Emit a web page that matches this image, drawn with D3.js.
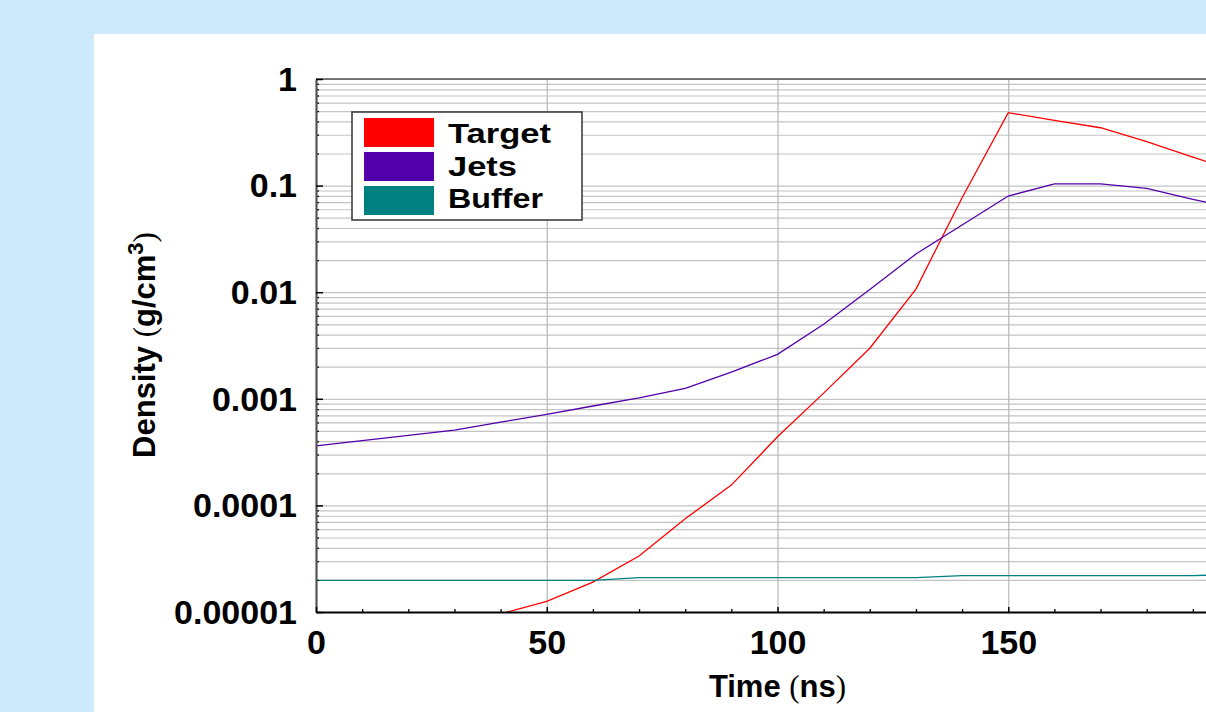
<!DOCTYPE html>
<html>
<head>
<meta charset="utf-8">
<script src="https://cdn.jsdelivr.net/npm/d3@7"></script>
<style>
  body { margin: 0; background: #cdeafd; }
  svg { display: block; }
  .lbl { font-family: "Liberation Sans", Arial, Helvetica, sans-serif; font-weight: bold; fill: #000; }
</style>
</head>
<body>
<svg id="chart"></svg>
<script>
// data
const targetTime = [40, 50, 60, 70, 80, 90, 100, 110, 120, 130, 140, 150, 160, 170, 180, 190, 200];
const targetDensity = [9.6e-6, 1.26e-5, 1.91e-5, 3.35e-5, 7.5e-5, 1.55e-4, 4.4e-4, 1.13e-3, 2.98e-3, 1.07e-2, 7.7e-2, 0.483, 0.41, 0.349, 0.258, 0.185, 0.134];

const jetsTime = [0, 10, 20, 30, 40, 50, 60, 70, 80, 90, 100, 110, 120, 130, 140, 150, 160, 170, 180, 190, 200];
const jetsDensity = [3.61e-4, 4.05e-4, 4.54e-4, 5.09e-4, 6.04e-4, 7.16e-4, 8.56e-4, 1.02e-3, 1.25e-3, 1.78e-3, 2.61e-3, 5.0e-3, 1.06e-2, 2.28e-2, 4.27e-2, 0.0798, 0.104, 0.104, 0.0944, 0.0743, 0.06];

const bufferTime = [0, 10, 20, 30, 40, 50, 60, 70, 80, 90, 100, 110, 120, 130, 140, 150, 160, 170, 180, 190, 200];
const bufferDensity = [1.98e-5, 1.98e-5, 1.98e-5, 1.98e-5, 1.98e-5, 1.98e-5, 1.98e-5, 2.10e-5, 2.10e-5, 2.10e-5, 2.10e-5, 2.10e-5, 2.10e-5, 2.10e-5, 2.19e-5, 2.19e-5, 2.19e-5, 2.19e-5, 2.19e-5, 2.19e-5, 2.27e-5];

const seriesNames = ['Target', 'Jets', 'Buffer'];
const seriesColors = ['#ff0000', '#5200aa', '#008080'];

const yTickValues = [1, 0.1, 0.01, 0.001, 0.0001, 0.00001];
const yTickLabels = ['1', '0.1', '0.01', '0.001', '0.0001', '0.00001'];
// the 200 tick sits past the window edge, so only the visible labels are listed
const xTickValues = [0, 50, 100, 150];
const xTickLabels = ['0', '50', '100', '150'];

const config = {
    width: 1206,
    height: 712,
    panel: {x: 94, y: 34},
    plot: {left: 316, top: 79, bottom: 612, right: 1239},
    legendTextWidth: [103, 69, 95]
};

const svg = d3.select('#chart')
    .attr('width', config.width)
    .attr('height', config.height);

// white panel
svg.append('rect')
    .attr('x', config.panel.x)
    .attr('y', config.panel.y)
    .attr('width', config.width - config.panel.x + 20)
    .attr('height', config.height)
    .attr('fill', '#fff');

const xScale = d3.scaleLinear()
    .domain([0, 200])
    .range([config.plot.left, config.plot.right]);

const yScale = d3.scaleLog()
    .domain([1e-5, 1])
    .range([config.plot.bottom, config.plot.top]);

const plotW = config.plot.right - config.plot.left;
const plotH = config.plot.bottom - config.plot.top;

// minor log values 2..9 x 10^k
const minorY = [];
for (let k = -5; k < 0; k++) {
    for (let m = 2; m <= 9; m++) minorY.push(m * Math.pow(10, k));
}
const minorX = d3.range(0, 201, 10).filter(v => v % 50 !== 0);

// horizontal grid
svg.append('g')
    .attr('class', 'grid')
    .attr('transform', `translate(${config.plot.left},0)`)
    .call(d3.axisLeft(yScale).tickValues(minorY.concat(yTickValues)).tickSize(-plotW).tickFormat(''))
    .call(g => g.select('.domain').remove())
    .call(g => g.selectAll('line').attr('stroke', '#c4c4c4').attr('stroke-width', 1.2));

// vertical grid
svg.append('g')
    .attr('class', 'grid')
    .attr('transform', `translate(0,${config.plot.bottom})`)
    .call(d3.axisBottom(xScale).tickValues([50, 100, 150]).tickSize(-plotH).tickFormat(''))
    .call(g => g.select('.domain').remove())
    .call(g => g.selectAll('line').attr('stroke', '#b8b8b8').attr('stroke-width', 1.2));

// lines
svg.append('clipPath').attr('id', 'plot-clip')
    .append('rect')
    .attr('x', config.plot.left)
    .attr('y', config.plot.top)
    .attr('width', plotW)
    .attr('height', plotH);

const lineGen = d3.line()
    .x(d => xScale(d[0]))
    .y(d => yScale(d[1]));

const seriesData = [
    d3.zip(targetTime, targetDensity),
    d3.zip(jetsTime, jetsDensity),
    d3.zip(bufferTime, bufferDensity)
];

svg.append('g')
    .attr('clip-path', 'url(#plot-clip)')
    .selectAll('path')
    .data(seriesData)
    .join('path')
    .attr('d', lineGen)
    .attr('fill', 'none')
    .attr('stroke', (d, i) => seriesColors[i])
    .attr('stroke-width', 1.3);

// frame top
svg.append('line')
    .attr('x1', config.plot.left).attr('x2', config.plot.right)
    .attr('y1', config.plot.top).attr('y2', config.plot.top)
    .attr('stroke', '#555').attr('stroke-width', 1.5);

// y axis: minor ticks, then major with labels
svg.append('g')
    .attr('transform', `translate(${config.plot.left},0)`)
    .call(d3.axisLeft(yScale).tickValues(minorY).tickSize(-3).tickFormat(''))
    .call(g => g.select('.domain').remove())
    .call(g => g.selectAll('line').attr('stroke', '#000').attr('stroke-width', 1.3));

const yAxisG = svg.append('g')
    .attr('transform', `translate(${config.plot.left},0)`)
    .call(d3.axisLeft(yScale)
        .tickValues(yTickValues)
        .tickSizeInner(-7)
        .tickSizeOuter(0)
        .tickPadding(19)
        .tickFormat((d, i) => yTickLabels[i]));
yAxisG.select('.domain').attr('stroke', '#555').attr('stroke-width', 2.2);
yAxisG.selectAll('.tick line').attr('stroke', '#000').attr('stroke-width', 1.5);
yAxisG.selectAll('.tick text')
    .attr('class', 'lbl')
    .attr('font-size', 34)
    .attr('dy', '0.33em');

// x axis
svg.append('g')
    .attr('transform', `translate(0,${config.plot.bottom})`)
    .call(d3.axisBottom(xScale).tickValues(minorX).tickSize(-3).tickFormat(''))
    .call(g => g.select('.domain').remove())
    .call(g => g.selectAll('line').attr('stroke', '#000').attr('stroke-width', 1.3));

const xAxisG = svg.append('g')
    .attr('transform', `translate(0,${config.plot.bottom})`)
    .call(d3.axisBottom(xScale)
        .tickValues(xTickValues)
        .tickSizeInner(-5)
        .tickSizeOuter(0)
        .tickPadding(18)
        .tickFormat((d, i) => xTickLabels[i]));
xAxisG.select('.domain').attr('stroke', '#000').attr('stroke-width', 2.2);
xAxisG.selectAll('.tick line').attr('stroke', '#000').attr('stroke-width', 1.5);
xAxisG.selectAll('.tick text')
    .attr('class', 'lbl')
    .attr('font-size', 34)
    .attr('dy', '0.71em');

// axis titles
const xTitle = svg.append('text')
    .attr('class', 'lbl')
    .attr('x', xScale(100))
    .attr('y', 697)
    .attr('text-anchor', 'middle')
    .attr('font-size', 31);
xTitle.append('tspan').text('Time ');
xTitle.append('tspan').attr('font-weight', 'normal').attr('font-family', 'Liberation Serif, serif').text('(');
xTitle.append('tspan').text('ns');
xTitle.append('tspan').attr('font-weight', 'normal').attr('font-family', 'Liberation Serif, serif').text(')');

const yTitle = svg.append('text')
    .attr('class', 'lbl')
    .attr('transform', 'translate(155,345) rotate(-90)')
    .attr('text-anchor', 'middle')
    .attr('font-size', 31);
yTitle.append('tspan').text('Density ');
yTitle.append('tspan').attr('font-weight', 'normal').attr('font-family', 'Liberation Serif, serif').text('(');
yTitle.append('tspan').text('g/cm');
yTitle.append('tspan').attr('font-size', 22).attr('dy', -12).text('3');
yTitle.append('tspan').attr('font-weight', 'normal').attr('font-family', 'Liberation Serif, serif').attr('dy', 12).text(')');

// legend
const legend = svg.append('g').attr('transform', 'translate(352,112)');
legend.append('rect')
    .attr('width', 230)
    .attr('height', 108)
    .attr('fill', '#fff')
    .attr('stroke', '#333')
    .attr('stroke-width', 1.5);

legend.selectAll('.legend-swatch')
    .data(seriesNames)
    .join('rect')
    .attr('class', 'legend-swatch')
    .attr('x', 12)
    .attr('y', (d, i) => 6 + i * 34)
    .attr('width', 70)
    .attr('height', 29)
    .attr('fill', (d, i) => seriesColors[i]);

// names are set a bit smaller and stretched to the reference width so the lines don't collide
legend.selectAll('.legend-name')
    .data(seriesNames)
    .join('text')
    .attr('class', 'lbl legend-name')
    .attr('font-size', 28.5)
    .attr('x', 96)
    .attr('y', (d, i) => 31 + i * 32.6)
    .attr('textLength', (d, i) => config.legendTextWidth[i])
    .attr('lengthAdjust', 'spacingAndGlyphs')
    .text(d => d);
</script>
</body>
</html>
